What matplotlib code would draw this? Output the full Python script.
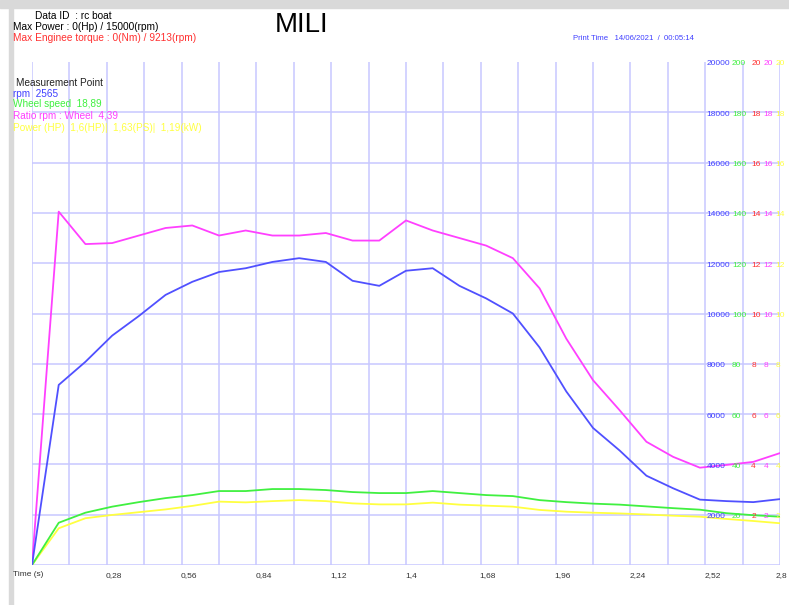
import numpy as np
import matplotlib
matplotlib.use("Agg")
import matplotlib.pyplot as plt
from matplotlib.patches import Rectangle

plt.rcParams['font.family'] = ['Liberation Sans', 'DejaVu Sans']

# sample times (s)
t = [0.0, 0.1, 0.2, 0.3, 0.4, 0.5, 0.6, 0.7, 0.8, 0.9, 1.0, 1.1, 1.2, 1.3, 1.4,
     1.5, 1.6, 1.7, 1.8, 1.9, 2.0, 2.1, 2.2, 2.3, 2.4, 2.5, 2.6, 2.7, 2.8]
# rpm
rpm = [0, 7160, 8080, 9120, 9900, 10740, 11260, 11650, 11800, 12050, 12200, 12050,
       11300, 11100, 11700, 11800, 11100, 10600, 10000, 8650, 6900, 5450, 4550,
       3550, 3050, 2600, 2540, 2500, 2620]
# ratio rpm : wheel
ratio = [0, 14.05, 12.76, 12.8, 13.1, 13.4, 13.5, 13.1, 13.3, 13.1, 13.1, 13.2, 12.9,
         12.9, 13.7, 13.3, 13.0, 12.7, 12.2, 11.0, 9.0, 7.35, 6.15, 4.9, 4.3, 3.87,
         3.98, 4.1, 4.45]
# wheel speed
wheel = [0, 16.8, 20.8, 23.2, 25.0, 26.6, 27.8, 29.4, 29.4, 30.2, 30.2, 29.8, 29.0,
         28.6, 28.6, 29.4, 28.6, 27.8, 27.4, 25.8, 25.0, 24.4, 24.0, 23.3, 22.6,
         22.0, 20.6, 19.8, 19.2]
# power (HP)
power = [0, 1.46, 1.86, 1.99, 2.10, 2.21, 2.35, 2.52, 2.49, 2.54, 2.58, 2.54, 2.45,
         2.41, 2.41, 2.48, 2.40, 2.36, 2.32, 2.19, 2.12, 2.08, 2.05, 2.01, 1.96,
         1.92, 1.83, 1.75, 1.66]

rpm_ticks = [2000, 4000, 6000, 8000, 10000, 12000, 14000, 16000, 18000, 20000]
x_labels = ['0,28', '0,56', '0,84', '1,12', '1,4', '1,68', '1,96', '2,24', '2,52', '2,8']

BLUE = '#5050ff'
GREEN = '#40f040'
MAGENTA = '#ff40ff'
YELLOW = '#ffff40'
RED = '#ff3030'
GRID = '#c8c8ff'

W, H = 789, 605
fig = plt.figure(figsize=(W / 100, H / 100), dpi=100)


def fx(x):
    return x / W


def fy(y):
    return 1 - y / H


# grey window frame
fig.patches.append(Rectangle((0, fy(8)), 1, 8 / H, transform=fig.transFigure,
                             color='#d9d9d9', zorder=0))
fig.patches.append(Rectangle((fx(9), 0), 4 / W, fy(8), transform=fig.transFigure,
                             color='#d9d9d9', zorder=0))

ax = fig.add_axes([fx(32), 1 - 565 / H, 748 / W, 503 / H])
for s in ax.spines.values():
    s.set_visible(False)
ax.set_xlim(0, 2.8)
ax.set_ylim(0, 20000)
ax.set_xticks([])
ax.set_yticks([])

for i in range(21):
    ax.axvline(i * 0.14, color=GRID, lw=1.1, zorder=1)
for v in [0] + rpm_ticks[:-1]:
    ax.axhline(v, color=GRID, lw=1.1, zorder=1)

tt = np.array(t)
ax.plot(tt, np.array(power) * 1000, color=YELLOW, lw=1.3, zorder=3)
ax.plot(tt, np.array(wheel) * 100, color=GREEN, lw=1.3, zorder=3)
ax.plot(tt, np.array(ratio) * 1000, color=MAGENTA, lw=1.3, zorder=3)
ax.plot(tt, np.array(rpm), color=BLUE, lw=1.3, zorder=3)

# right-hand scale labels
for v in rpm_ticks:
    ax.text(2.52 + 0.006, v + 60, str(v), color='#4040ff', fontsize=6, va='top', zorder=4)
    ax.text(2.62, v + 60, str(v // 100), color=GREEN, fontsize=6, va='top', zorder=4)
    ax.text(2.692, v + 60, str(v // 1000), color=RED, fontsize=6, va='top', zorder=4)
    ax.text(2.738, v + 60, str(v // 1000), color=MAGENTA, fontsize=6, va='top', zorder=4)
    ax.text(2.783, v + 60, str(v // 1000), color=YELLOW, fontsize=6, va='top', zorder=4)

# x tick labels
for i, lab in enumerate(x_labels):
    xpos = (i + 1) * 0.28 - 0.004
    if i == len(x_labels) - 1:
        xpos -= 0.012
    ax.text(xpos, -280, lab, color='#333333', fontsize=6,
            va='top', ha='left', clip_on=False)
fig.text(fx(13), fy(574), 'Time (s)', color='#333333', fontsize=6, va='center')

# header
fig.text(fx(35), fy(16), 'Data ID  : rc boat', fontsize=7.3, va='center')
fig.text(fx(13), fy(27), 'Max Power : 0(Hp) / 15000(rpm)', fontsize=7.3, va='center')
fig.text(fx(13), fy(38), 'Max Enginee torque : 0(Nm) / 9213(rpm)', fontsize=7.3,
         va='center', color=RED)
fig.text(fx(302), fy(25), 'MILI', fontsize=20, va='center', ha='center')
fig.text(fx(573), fy(38), 'Print Time   14/06/2021  /  00:05:14', fontsize=5.6,
         va='center', color='#4040ff')

# measurement point block
fig.text(fx(16), fy(83), 'Measurement Point', fontsize=7.2, va='center', color='#222222')
fig.text(fx(13), fy(94), 'rpm  2565', fontsize=7.2, va='center', color='#4040ff')
fig.text(fx(13), fy(104), 'Wheel speed  18,89', fontsize=7.2, va='center', color=GREEN)
fig.text(fx(13), fy(116), 'Ratio rpm : Wheel  4,39', fontsize=7.2, va='center', color=MAGENTA)
fig.text(fx(13), fy(128), 'Power (HP)  1,6(HP)|  1,63(PS)|  1,19(kW)', fontsize=7.2,
         va='center', color=YELLOW)

fig.savefig('out.png', dpi=100)
